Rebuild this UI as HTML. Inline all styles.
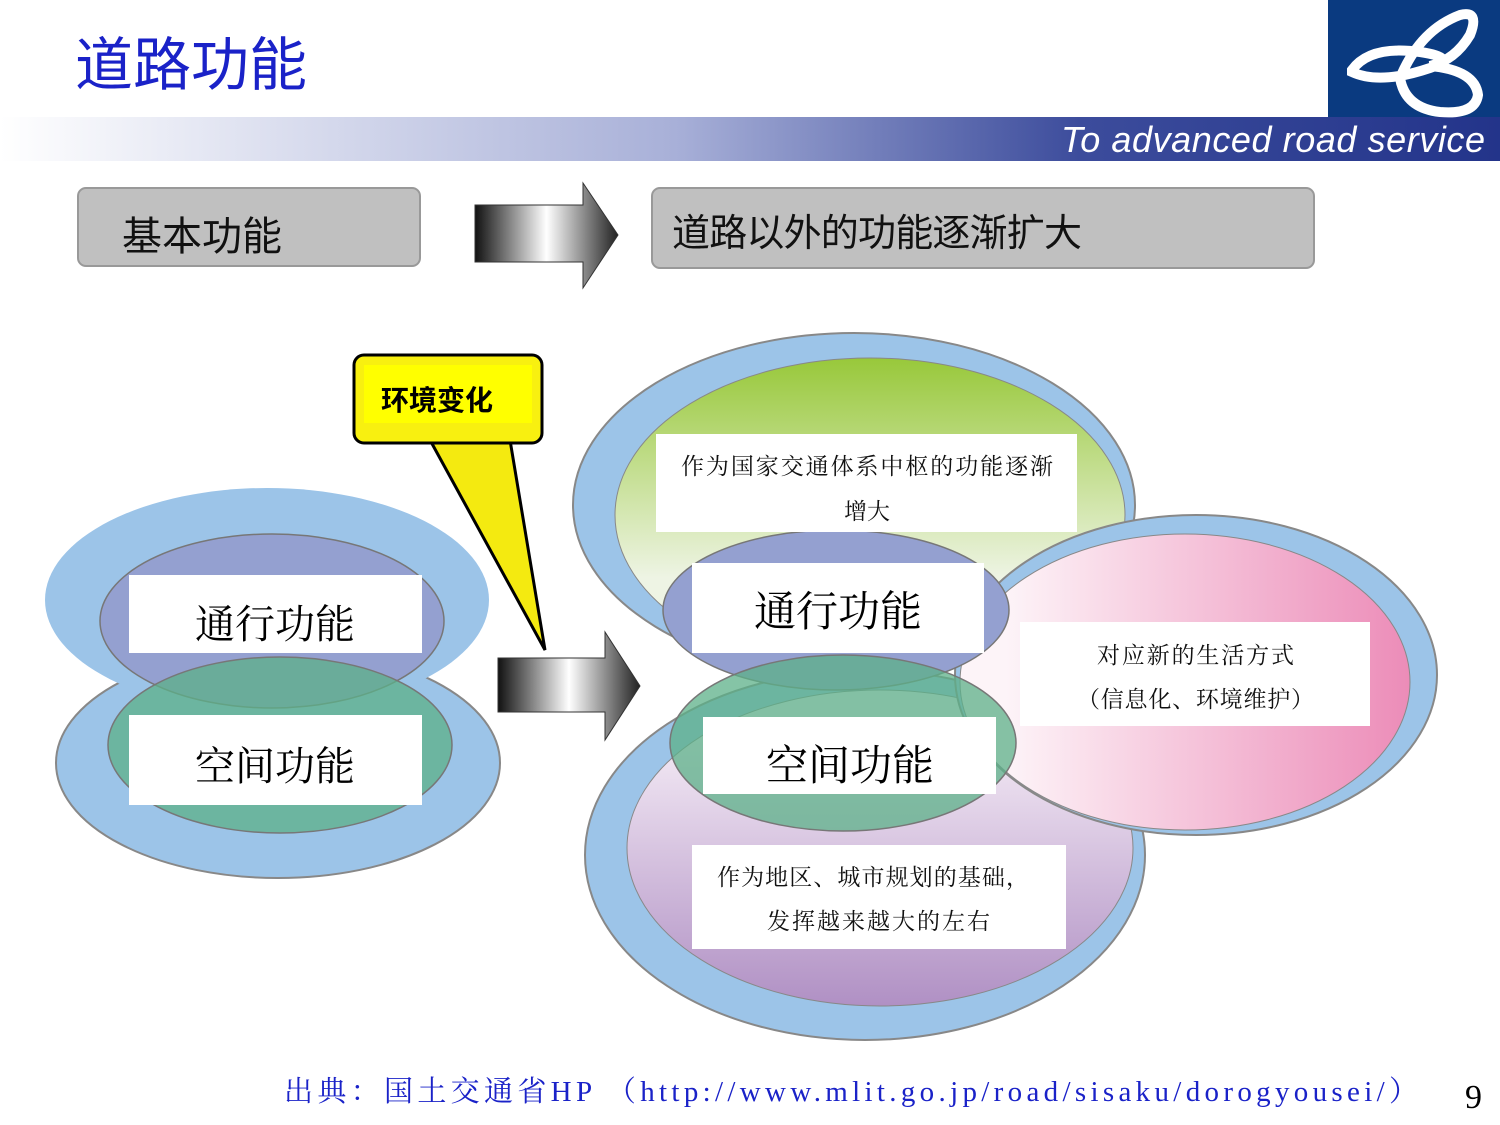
<!DOCTYPE html>
<html><head><meta charset="utf-8"><style>
body{margin:0;width:1500px;height:1125px;overflow:hidden;background:#fff;font-family:"Liberation Serif","Noto Serif CJK SC",serif;}
</style></head><body>
<svg width="1500" height="1125" xmlns="http://www.w3.org/2000/svg" style="position:absolute;left:0;top:0">
<defs>
<linearGradient id="band" x1="0" x2="1"><stop offset="0" stop-color="#fff"/><stop offset="0.45" stop-color="#a8b0d8"/><stop offset="0.72" stop-color="#3c4c9c"/><stop offset="1" stop-color="#23348a"/></linearGradient>
<linearGradient id="arr" x1="0" x2="1"><stop offset="0" stop-color="#111"/><stop offset="0.5" stop-color="#fff"/><stop offset="1" stop-color="#222"/></linearGradient>
<linearGradient id="grn" x1="0" y1="0" x2="0" y2="1"><stop offset="0" stop-color="#98c83a"/><stop offset="0.7" stop-color="#eef4e4"/></linearGradient>
<linearGradient id="pur" x1="0" y1="0" x2="0" y2="1"><stop offset="0.1" stop-color="#f8f0f8"/><stop offset="1" stop-color="#b090c4"/></linearGradient>
<linearGradient id="pnk" x1="0" x2="1"><stop offset="0.1" stop-color="#fdf4f8"/><stop offset="1" stop-color="#ec8cb8"/></linearGradient>
</defs>
<text x="75" y="85" font-size="58" fill="#1a22c8" font-family="Liberation Sans,Noto Sans CJK SC,sans-serif">道路功能</text>
<rect x="0" y="117" width="1500" height="44" fill="url(#band)"/>
<rect x="1328" y="0" width="172" height="117" fill="#0a3a80"/>
<path d="M1352 70 Q1370 45 1420 52 Q1460 58 1430 68 Q1380 85 1352 72 Z M1400 78 Q1420 30 1460 15 Q1480 10 1470 35 Q1455 60 1430 66 Q1475 70 1478 95 Q1475 115 1440 112 Q1405 108 1400 78 Z" fill="none" stroke="#fff" stroke-width="10"/>
<text x="1485" y="152" text-anchor="end" font-size="36" font-style="italic" fill="#fff" font-family="Liberation Sans,sans-serif" textLength="424">To advanced road service</text>

<rect x="78" y="188" width="342" height="78" rx="8" fill="#c0c0c0" stroke="#999" stroke-width="2"/>
<text x="122" y="250" font-size="40" fill="#111" font-family="Liberation Sans,Noto Sans CJK SC,sans-serif">基本功能</text>
<path d="M475 205 H583 V183 L618 235 L583 288 V262 H475 Z" fill="url(#arr)" stroke="#333"/>
<rect x="652" y="188" width="662" height="80" rx="8" fill="#c0c0c0" stroke="#999" stroke-width="2"/>
<text x="672" y="246" font-size="38" fill="#111" font-family="Liberation Sans,Noto Sans CJK SC,sans-serif" textLength="410">道路以外的功能逐渐扩大</text>

<ellipse cx="278" cy="763" rx="222" ry="115" fill="#9cc4e8" stroke="#888" stroke-width="2"/>
<ellipse cx="267" cy="600" rx="222" ry="112" fill="#9cc4e8"/>
<ellipse cx="272" cy="621" rx="172" ry="87" fill="#94a0d0" stroke="#777" stroke-width="1.5"/>
<ellipse cx="280" cy="745" rx="172" ry="88" fill="#5cb088" fill-opacity="0.75" stroke="#777" stroke-width="1.5"/>
<rect x="129" y="575" width="293" height="78" fill="#fff"/>
<rect x="129" y="715" width="293" height="90" fill="#fff"/>
<text x="275" y="638" text-anchor="middle" font-size="40" fill="#000">通行功能</text>
<text x="275" y="780" text-anchor="middle" font-size="40" fill="#000">空间功能</text>

<path d="M430 440 L545 650 L510 440 Z" fill="#f4ea10" stroke="#000" stroke-width="3"/>
<rect x="354" y="355" width="188" height="88" rx="10" fill="#f8f010" stroke="#000" stroke-width="3"/>
<rect x="364" y="365" width="168" height="58" fill="#ffff00"/>
<text x="437" y="410" text-anchor="middle" font-size="28" font-weight="bold" fill="#000" font-family="Liberation Sans,Noto Sans CJK SC,sans-serif">环境变化</text>
<path d="M498 658 H605 V632 L640 686 L605 740 V712 H498 Z" fill="url(#arr)" stroke="#333"/>

<ellipse cx="854" cy="505" rx="281" ry="172" fill="#9cc4e8" stroke="#888" stroke-width="2"/>
<ellipse cx="870" cy="515" rx="255" ry="157" fill="url(#grn)" stroke="#888"/>
<ellipse cx="865" cy="855" rx="280" ry="185" fill="#9cc4e8" stroke="#888" stroke-width="2"/>
<ellipse cx="880" cy="848" rx="253" ry="158" fill="url(#pur)" stroke="#888"/>
<ellipse cx="1196" cy="675" rx="241" ry="160" fill="#9cc4e8" stroke="#888" stroke-width="2"/>
<ellipse cx="1185" cy="682" rx="225" ry="148" fill="url(#pnk)" stroke="#888"/>
<ellipse cx="836" cy="610" rx="173" ry="80" fill="#94a0d0" stroke="#777" stroke-width="1.5"/>
<ellipse cx="843" cy="743" rx="173" ry="88" fill="#5cb088" fill-opacity="0.75" stroke="#777" stroke-width="1.5"/>
<rect x="656" y="434" width="421" height="98" fill="#fff"/>
<text x="681" y="474" font-size="23" fill="#111" textLength="372">作为国家交通体系中枢的功能逐渐</text>
<text x="867" y="519" text-anchor="middle" font-size="23" fill="#111">增大</text>
<rect x="692" y="563" width="292" height="90" fill="#fff"/>
<text x="838" y="626" text-anchor="middle" font-size="42" fill="#000">通行功能</text>
<rect x="703" y="717" width="293" height="77" fill="#fff"/>
<text x="850" y="780" text-anchor="middle" font-size="42" fill="#000">空间功能</text>
<rect x="1020" y="622" width="350" height="104" fill="#fff"/>
<text x="1097" y="663" font-size="23" fill="#111" textLength="197">对应新的生活方式</text>
<text x="1077" y="707" font-size="23" fill="#111" textLength="237">（信息化、环境维护）</text>
<rect x="692" y="845" width="374" height="104" fill="#fff"/>
<text x="717" y="885" font-size="23" fill="#111" textLength="312">作为地区、城市规划的基础，</text>
<text x="767" y="929" font-size="23" fill="#111" textLength="223">发挥越来越大的左右</text>

<text x="284" y="1101" font-size="29" fill="#1a22c8" textLength="1134">出典：国土交通省HP （http://www.mlit.go.jp/road/sisaku/dorogyousei/）</text>
<text x="1465" y="1108" font-size="34" fill="#000">9</text>
</svg>
</body></html>
